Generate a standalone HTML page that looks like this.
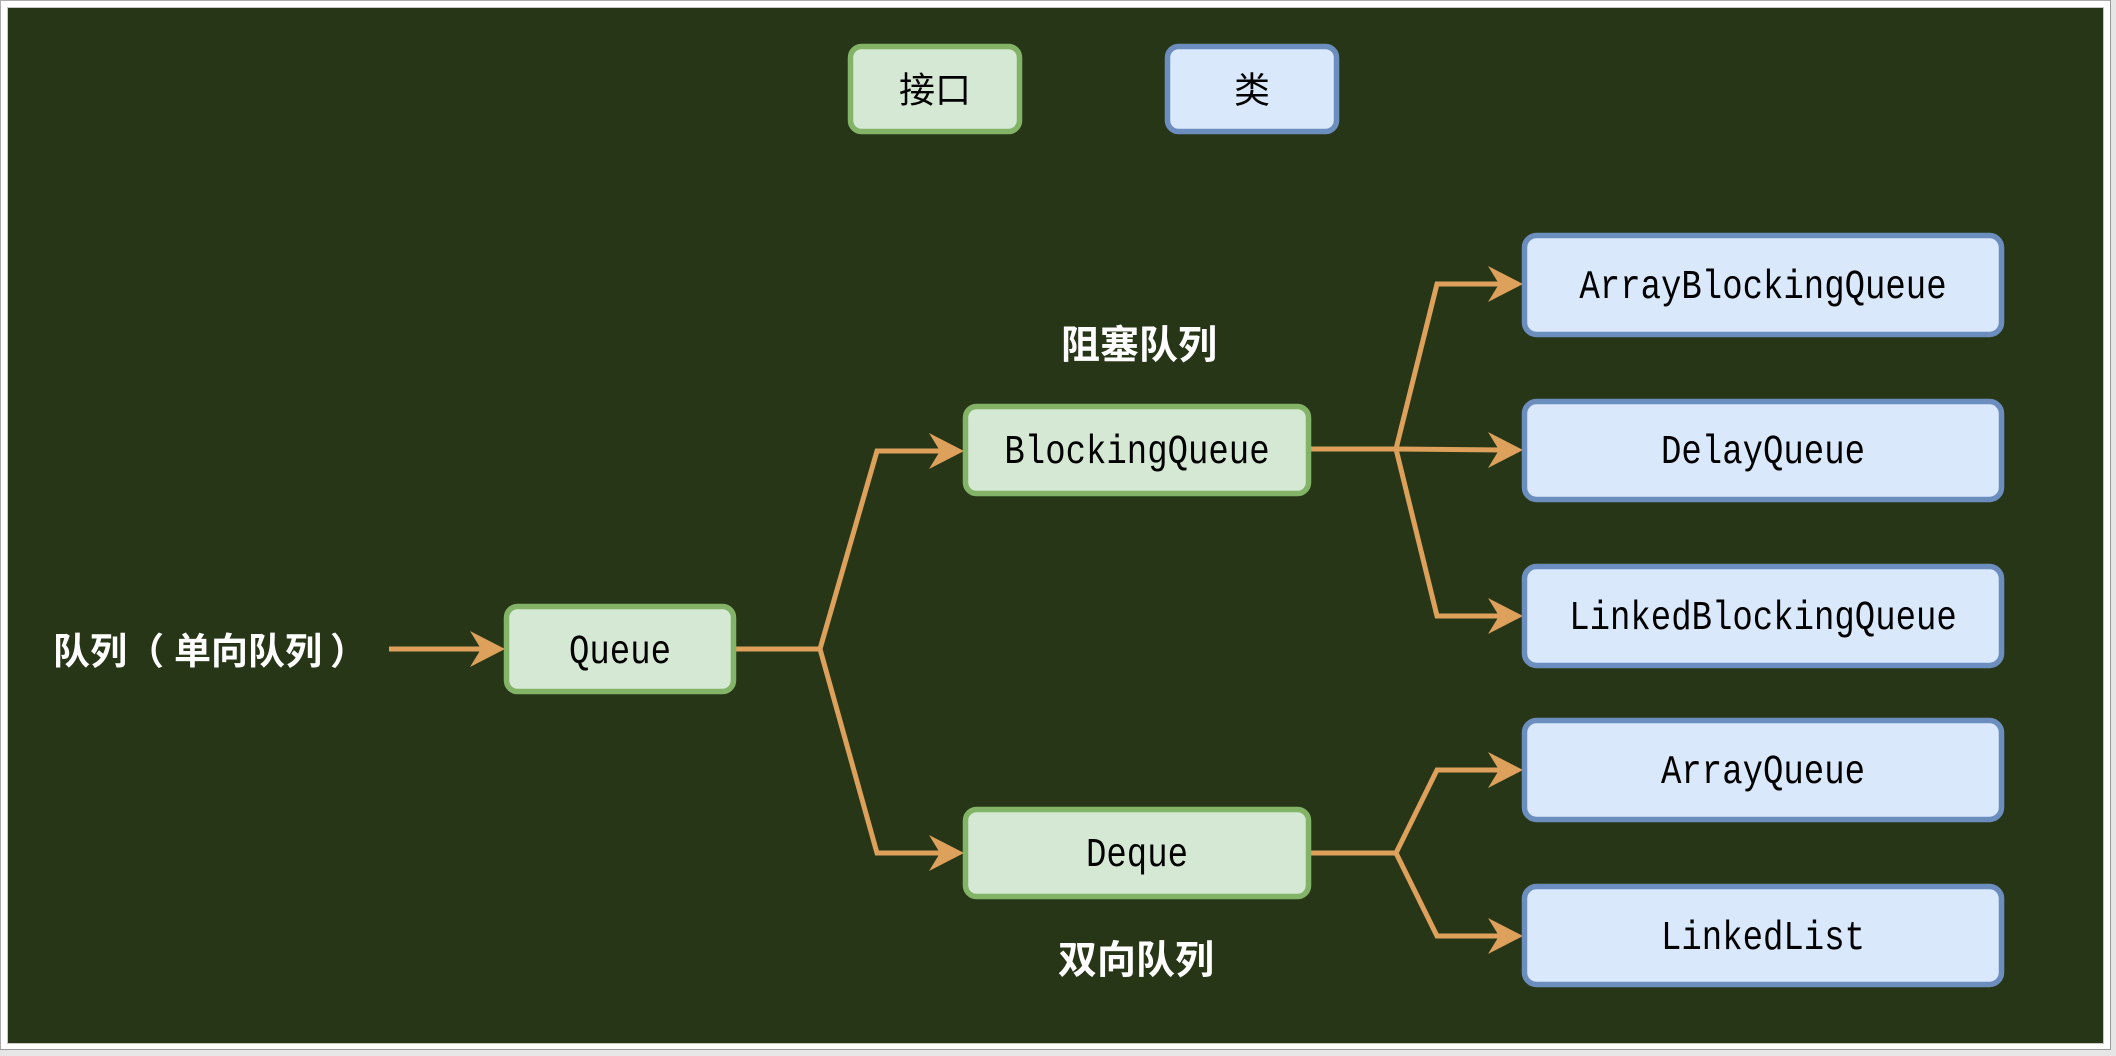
<!DOCTYPE html>
<html>
<head>
<meta charset="utf-8">
<style>
html,body{margin:0;padding:0;background:#e6e6e6;}
svg{display:block;}
.t{font-family:"Liberation Mono",monospace;font-size:34px;fill:#000;}
.w{font-family:"Liberation Sans","Noto Sans CJK SC",sans-serif;font-weight:700;fill:#fff;}
.lg{font-family:"Liberation Sans","Noto Sans CJK SC",sans-serif;font-size:36px;fill:#000;}
</style>
</head>
<body>
<svg width="2116" height="1056" viewBox="0 0 2116 1056" xmlns="http://www.w3.org/2000/svg">
  <!-- frame -->
  <rect x="0" y="0" width="2116" height="1056" fill="#e6e6e6"/>
  <rect x="0" y="0" width="2111" height="1050" fill="#ffffff"/>
  <line x1="0.5" y1="0" x2="0.5" y2="1050" stroke="#aaaaaa" stroke-width="1"/>
  <line x1="0" y1="0.5" x2="2111" y2="0.5" stroke="#aaaaaa" stroke-width="1"/>
  <line x1="2110.5" y1="0" x2="2110.5" y2="1050" stroke="#999999" stroke-width="1"/>
  <line x1="0" y1="1049.5" x2="2111" y2="1049.5" stroke="#999999" stroke-width="1"/>
  <rect x="7.5" y="7.5" width="2096" height="1036" fill="none" stroke="#c8c8c8" stroke-width="1"/>
  <rect x="8" y="8" width="2095" height="1035" fill="#283618"/>

  <!-- legend -->
  <rect x="850.5" y="46.5" width="169" height="85" rx="11" fill="#d5e8d4" stroke="#82b366" stroke-width="5.5"/>
  <text x="935" y="90" class="lg" text-anchor="middle" dominant-baseline="central">接口</text>
  <rect x="1167.5" y="46.5" width="169" height="85" rx="11" fill="#dae8fc" stroke="#6c8ebf" stroke-width="5.5"/>
  <text x="1252" y="90" class="lg" text-anchor="middle" dominant-baseline="central">类</text>

  <!-- connectors -->
  <g fill="none" stroke="#dda15b" stroke-width="5" stroke-linejoin="miter">
    <line x1="389" y1="649" x2="484" y2="649"/>
    <polyline points="736,649 820,649 877,451 945,451"/>
    <polyline points="820,649 877,853 945,853"/>
    <polyline points="1311,449 1396,449 1437,284 1504,284"/>
    <polyline points="1396,449 1504,450"/>
    <polyline points="1396,449 1437,616 1504,616"/>
    <polyline points="1311,853 1396,853 1437,770 1504,770"/>
    <polyline points="1396,853 1437,936 1504,936"/>
  </g>
  <g fill="#dda15b">
    <polygon points="505,649 470,631 481,649 470,667"/>
    <polygon points="964,451 929,433 940,451 929,469"/>
    <polygon points="964,853 929,835 940,853 929,871"/>
    <polygon points="1523,284 1488,266 1499,284 1488,302"/>
    <polygon points="1523,450 1488,432 1499,450 1488,468"/>
    <polygon points="1523,616 1488,598 1499,616 1488,634"/>
    <polygon points="1523,770 1488,752 1499,770 1488,788"/>
    <polygon points="1523,936 1488,918 1499,936 1488,954"/>
  </g>

  <!-- interface boxes -->
  <rect x="506.5" y="606.5" width="227" height="85" rx="11" fill="#d5e8d4" stroke="#82b366" stroke-width="5.5"/>
  <rect x="965.5" y="406.5" width="343" height="87" rx="11" fill="#d5e8d4" stroke="#82b366" stroke-width="5.5"/>
  <rect x="965.5" y="809.5" width="343" height="87" rx="11" fill="#d5e8d4" stroke="#82b366" stroke-width="5.5"/>

  <!-- class boxes -->
  <rect x="1524.5" y="235.5" width="477" height="99" rx="12" fill="#dae8fc" stroke="#6c8ebf" stroke-width="5.5"/>
  <rect x="1524.5" y="401.5" width="477" height="98" rx="12" fill="#dae8fc" stroke="#6c8ebf" stroke-width="5.5"/>
  <rect x="1524.5" y="566.5" width="477" height="99" rx="12" fill="#dae8fc" stroke="#6c8ebf" stroke-width="5.5"/>
  <rect x="1524.5" y="720.5" width="477" height="99" rx="12" fill="#dae8fc" stroke="#6c8ebf" stroke-width="5.5"/>
  <rect x="1524.5" y="886.5" width="477" height="98" rx="12" fill="#dae8fc" stroke="#6c8ebf" stroke-width="5.5"/>

  <!-- box labels -->
  <g class="t" text-anchor="middle" dominant-baseline="central">
    <text transform="translate(620,653) scale(1,1.2)">Queue</text>
    <text transform="translate(1137,453) scale(1,1.2)">BlockingQueue</text>
    <text transform="translate(1137,856) scale(1,1.2)">Deque</text>
    <text transform="translate(1763,288) scale(1,1.2)">ArrayBlockingQueue</text>
    <text transform="translate(1763,453) scale(1,1.2)">DelayQueue</text>
    <text transform="translate(1763,619) scale(1,1.2)">LinkedBlockingQueue</text>
    <text transform="translate(1763,773) scale(1,1.2)">ArrayQueue</text>
    <text transform="translate(1763,939) scale(1,1.2)">LinkedList</text>
  </g>

  <!-- white labels -->
  <text class="w" font-size="37" y="651" dominant-baseline="central"><tspan x="53">队列（</tspan><tspan x="174">单向队列</tspan><tspan x="330">）</tspan></text>
  <text class="w" font-size="39" x="1139" y="346" text-anchor="middle" dominant-baseline="central">阻塞队列</text>
  <text class="w" font-size="39" x="1136" y="961" text-anchor="middle" dominant-baseline="central">双向队列</text>
</svg>
</body>
</html>
